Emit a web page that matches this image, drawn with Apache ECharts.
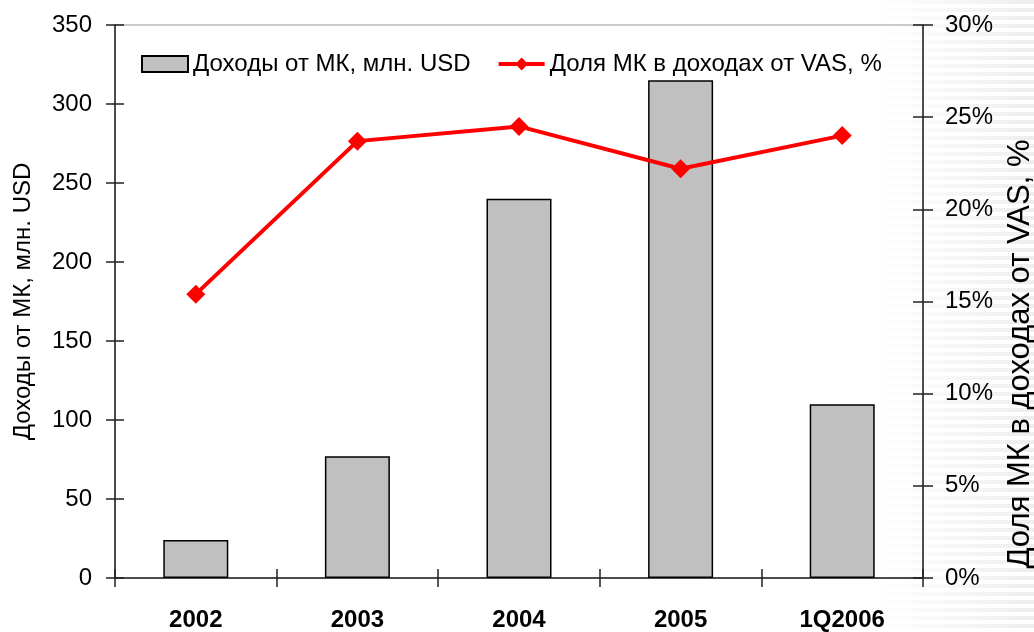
<!DOCTYPE html>
<html>
<head>
<meta charset="utf-8">
<script src="https://cdn.jsdelivr.net/npm/echarts@6/dist/echarts.min.js"></script>
<style>
html,body{margin:0;padding:0;background:#fff;}
#chart{width:1034px;height:632px;}
</style>
</head>
<body>
<div id="chart"></div>
<script>
const categories = ['2002', '2003', '2004', '2005', '1Q2006'];
const revenue = [24, 77, 240, 315, 110];
const share = [15.4, 23.7, 24.5, 22.2, 24.0];
const seriesNames = ['Доходы от МК, млн. USD', 'Доля МК в доходах от VAS, %'];
const leftAxisName = 'Доходы от МК, млн. USD';
const rightAxisName = 'Доля МК в доходах от VAS, %';

const FONT = "'Liberation Sans', Arial, sans-serif";
const FS = 24;

// striped decorative background pattern
const pc = document.createElement('canvas');
pc.width = 4; pc.height = 8;
const pctx = pc.getContext('2d');
pctx.fillStyle = '#ffffff'; pctx.fillRect(0, 0, 4, 8);
pctx.fillStyle = '#e8e8e8'; pctx.fillRect(0, 0, 4, 4);

const chart = echarts.init(document.getElementById('chart'), null, {renderer: 'canvas'});
const axisLine = {show: true, lineStyle: {color: '#222', width: 1.5}};
const tickStyle = {color: '#222', width: 1.5};
const option = {
  animation: false,
  backgroundColor: '#fff',
  textStyle: {fontFamily: FONT},
  graphic: [
    {type: 'rect', z: -100, shape: {x: 880, y: 0, width: 154, height: 632},
     style: {fill: {image: pc, repeat: 'repeat'}}},
    {type: 'rect', z: -99, shape: {x: 880, y: 0, width: 154, height: 632},
     style: {fill: new echarts.graphic.LinearGradient(0, 0, 1, 0, [
       {offset: 0, color: 'rgba(255,255,255,1)'},
       {offset: 1, color: 'rgba(255,255,255,0.25)'}])}},
    {type: 'text', x: 1020, y: 354, rotation: Math.PI / 2,
     style: {text: rightAxisName, font: "31px " + FONT, fill: '#000', align: 'center', verticalAlign: 'middle'}}
  ],
  grid: {left: 115, right: 111, top: 25, bottom: 54, show: true, borderColor: '#999', borderWidth: 1, backgroundColor: 'transparent'},
  legend: {
    left: 136, top: 47, itemWidth: 46, itemHeight: 16, itemGap: 26,
    textStyle: {fontSize: FS, color: '#000', fontFamily: FONT},
    lineStyle: {width: 4},
    data: [{name: seriesNames[0], icon: 'rect'}, {name: seriesNames[1]}]
  },
  xAxis: [
    {type: 'category', data: categories, position: 'bottom',
     axisLine: axisLine, axisTick: {show: true, inside: false, length: 9, lineStyle: tickStyle},
     axisLabel: {fontSize: FS, fontWeight: 'bold', color: '#000', margin: 30, fontFamily: FONT},
     splitLine: {show: false}},
    {type: 'category', data: categories, position: 'bottom',
     axisLine: {show: false}, axisTick: {show: true, inside: true, length: 9, lineStyle: tickStyle},
     axisLabel: {show: false}, splitLine: {show: false}}
  ],
  yAxis: [
    {type: 'value', min: 0, max: 350, interval: 50, position: 'left',
     axisLine: axisLine, axisTick: {show: true, length: 9, lineStyle: tickStyle},
     axisLabel: {fontSize: FS, color: '#000', margin: 23, fontFamily: FONT},
     splitLine: {show: false},
     name: leftAxisName, nameLocation: 'middle', nameRotate: 90, nameGap: 80,
     nameTextStyle: {fontSize: FS, color: '#000', fontFamily: FONT}},
    {type: 'value', min: 0, max: 30, interval: 5, position: 'right',
     axisLine: axisLine, axisTick: {show: true, length: 10, lineStyle: tickStyle},
     axisLabel: {fontSize: FS, color: '#000', margin: 22, formatter: '{value}%', fontFamily: FONT},
     splitLine: {show: false}},
    {type: 'value', min: 0, max: 350, interval: 50, position: 'left',
     axisLine: {show: false}, axisTick: {show: true, inside: true, length: 9, lineStyle: tickStyle},
     axisLabel: {show: false}, splitLine: {show: false}},
    {type: 'value', min: 0, max: 30, interval: 5, position: 'right',
     axisLine: {show: false}, axisTick: {show: true, inside: true, length: 10, lineStyle: tickStyle},
     axisLabel: {show: false}, splitLine: {show: false}}
  ],
  series: [
    {name: seriesNames[0], type: 'bar', data: revenue, xAxisIndex: 0, yAxisIndex: 0,
     barWidth: 65,
     itemStyle: {color: '#C0C0C0', borderColor: '#000', borderWidth: 1.5}},
    {name: seriesNames[1], type: 'line', data: share, xAxisIndex: 0, yAxisIndex: 1,
     symbol: 'diamond', symbolSize: 19,
     lineStyle: {color: '#FF0000', width: 4},
     itemStyle: {color: '#FF0000'}}
  ]
};
chart.setOption(option);
</script>
</body>
</html>
